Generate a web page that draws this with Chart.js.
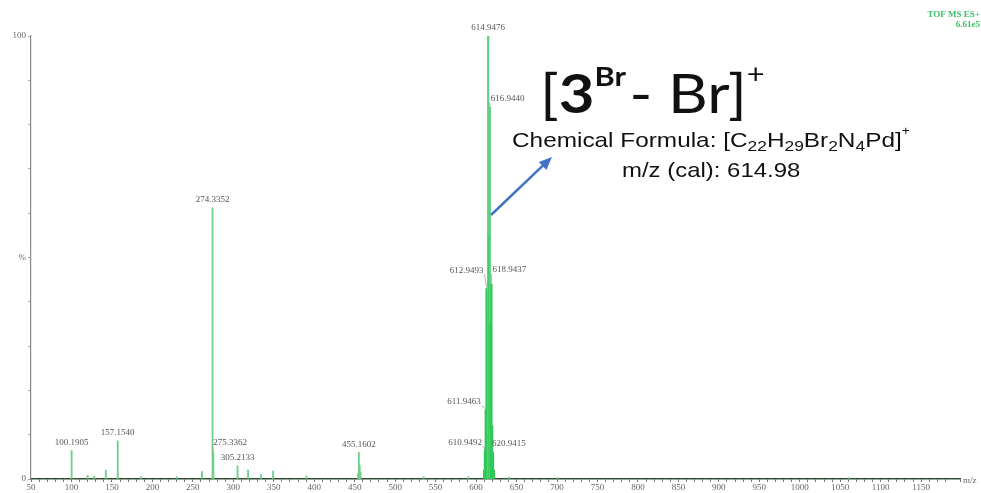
<!DOCTYPE html>
<html>
<head>
<meta charset="utf-8">
<script src="https://cdn.jsdelivr.net/npm/chart.js@4.4.0/dist/chart.umd.min.js"></script>
<style>
  html, body { margin: 0; padding: 0; background: #fff; }
  #espectro { display: block; }
</style>
</head>
<body>
<canvas id="espectro" width="981" height="493"></canvas>
<script>
// picos do espectro (m/z e intensidade relativa, %)
const mzValues = [
  100.1905, 120.1, 128.1, 142.5, 157.1540, 186.1, 230.2, 261.3, 274.3352, 275.3362,
  305.2133, 318.2, 334.2, 349.2, 390.3, 454.2, 455.1602, 456.2, 457.2, 535.3, 590.4,
  609.95, 610.9492, 611.9463, 612.9493, 613.95, 614.9476, 615.95, 616.9440, 617.95,
  618.9437, 619.95, 620.9415, 621.94, 640.5, 700.5, 1060.6
];
const intensities = [
  6.4, 0.8, 0.6, 2.0, 8.6, 0.5, 0.5, 1.7, 61.2, 6.0,
  3.0, 2.0, 1.0, 1.8, 0.7, 1.2, 6.0, 3.0, 1.5, 0.5, 0.5,
  2.0, 6.5, 15.6, 43.0, 38.0, 100.0, 55.0, 84.0, 35.0,
  44.0, 12.0, 6.0, 2.0, 0.4, 0.3, 0.3
];
// picos anotados com o valor de m/z
const labeledMz = [
  100.1905, 157.1540, 274.3352, 275.3362, 305.2133, 455.1602,
  610.9492, 611.9463, 612.9493, 614.9476, 616.9440, 618.9437, 620.9415
];
const xTickStep = 10;
const xLabelStep = 50;
const yTicks = [0, 50, 100];

// onde fica cada rótulo em relação ao topo do pico
const labelPlacement = {
  '275.3362': { align: 'left', dx: 0, dy: -10, leader: true },
  '610.9492': { align: 'right', dx: -3, dy: -8, leader: true },
  '611.9463': { align: 'right', dx: -5, dy: -8, leader: true },
  '612.9493': { align: 'right', dx: -3, dy: -18, leader: true },
  '616.9440': { align: 'left', dx: 1, dy: -8, leader: true },
  '618.9437': { align: 'left', dx: 1, dy: -14, leader: true },
  '620.9415': { align: 'left', dx: -1, dy: -9, leader: true }
};

const isCluster = mz => mz > 600 && mz < 625;
const spectrumPoints = [];
const clusterPoints = [];
mzValues.forEach((mz, i) => {
  (isCluster(mz) ? clusterPoints : spectrumPoints).push({ x: mz, y: intensities[i] });
});

const peakLabelsPlugin = {
  id: 'peakLabels',
  afterDatasetsDraw(chart) {
    const { ctx, scales } = chart;
    ctx.save();
    ctx.font = '9px "Liberation Serif", "DejaVu Serif", serif';
    ctx.fillStyle = '#555';
    ctx.strokeStyle = '#999';
    ctx.lineWidth = 0.8;
    ctx.textBaseline = 'middle';
    labeledMz.forEach(mz => {
      const text = mz.toFixed(4);
      const idx = mzValues.indexOf(mz);
      const px = scales.x.getPixelForValue(mz);
      const py = scales.y.getPixelForValue(intensities[idx]);
      const p = labelPlacement[text] || { align: 'center', dx: 0, dy: -8 };
      ctx.textAlign = p.align;
      ctx.fillText(text, px + p.dx, py + p.dy);
      if (p.leader) {
        ctx.beginPath();
        ctx.moveTo(px + p.dx + (p.align === 'right' ? 1 : -1), py + p.dy + 4);
        ctx.lineTo(px, py - 1);
        ctx.stroke();
      }
    });
    ctx.restore();
  }
};

// escreve trechos seguidos (índices, expoentes) esticados na horizontal por sx
function drawSegments(ctx, segs, x, baseline, sx) {
  ctx.save();
  ctx.translate(x, baseline);
  ctx.scale(sx, 1);
  let cx = 0;
  segs.forEach(s => {
    ctx.font = s.font;
    ctx.fillText(s.t, cx, s.shift || 0);
    cx += ctx.measureText(s.t).width + (s.gap || 0);
  });
  ctx.restore();
}

const annotationPlugin = {
  id: 'annotation',
  afterDraw(chart) {
    const { ctx, chartArea } = chart;
    ctx.save();
    ctx.fillStyle = '#111';
    ctx.textAlign = 'left';
    ctx.textBaseline = 'alphabetic';

    const big = '"Lato", "Open Sans", sans-serif';
    drawSegments(ctx, [
      { t: '[', font: '54px ' + big },
      { t: '3', font: 'bold 54px ' + big },
      { t: 'Br', font: 'bold 27px ' + big, shift: -27, gap: 3 },
      { t: '- ', font: '54px ' + big },
      { t: 'Br]', font: '54px ' + big },
      { t: '+', font: '27px ' + big, shift: -30 }
    ], 540, 113, 1.14);

    const sans = '"Liberation Sans", Arial, sans-serif';
    drawSegments(ctx, [
      { t: 'Chemical Formula: [C', font: '21px ' + sans },
      { t: '22', font: '15px ' + sans, shift: 4 },
      { t: 'H', font: '21px ' + sans },
      { t: '29', font: '15px ' + sans, shift: 4 },
      { t: 'Br', font: '21px ' + sans },
      { t: '2', font: '15px ' + sans, shift: 4 },
      { t: 'N', font: '21px ' + sans },
      { t: '4', font: '15px ' + sans, shift: 4 },
      { t: 'Pd]', font: '21px ' + sans },
      { t: '+', font: '12px ' + sans, shift: -12 }
    ], 512, 147, 1.16);
    drawSegments(ctx, [{ t: 'm/z (cal): 614.98', font: '21px ' + sans }], 622, 177, 1.14);

    // seta apontando para o pico principal
    const x0 = 491, y0 = 215, x1 = 552, y1 = 157;
    const ang = Math.atan2(y1 - y0, x1 - x0);
    ctx.strokeStyle = '#4472c4';
    ctx.fillStyle = '#4472c4';
    ctx.lineWidth = 2.5;
    ctx.beginPath();
    ctx.moveTo(x0, y0);
    ctx.lineTo(x1 - 9 * Math.cos(ang), y1 - 9 * Math.sin(ang));
    ctx.stroke();
    ctx.beginPath();
    ctx.moveTo(x1, y1);
    ctx.lineTo(x1 - 13 * Math.cos(ang) + 5.5 * Math.sin(ang), y1 - 13 * Math.sin(ang) - 5.5 * Math.cos(ang));
    ctx.lineTo(x1 - 13 * Math.cos(ang) - 5.5 * Math.sin(ang), y1 - 13 * Math.sin(ang) + 5.5 * Math.cos(ang));
    ctx.closePath();
    ctx.fill();

    const serif = '"Liberation Serif", "DejaVu Serif", serif';
    ctx.fillStyle = '#3fbf6a';
    ctx.font = 'bold 9px ' + serif;
    ctx.textAlign = 'right';
    ctx.fillText('TOF MS ES+', 980, 17);
    ctx.fillText('6.61e5', 980, 27);

    ctx.fillStyle = '#666';
    ctx.font = '9px ' + serif;
    ctx.textAlign = 'left';
    ctx.textBaseline = 'middle';
    ctx.fillText('m/z', chartArea.right + 3, chartArea.bottom + 2);
    ctx.restore();
  }
};

const ctx = document.getElementById('espectro').getContext('2d');
window.chart = new Chart(ctx, {
  type: 'bar',
  data: {
    datasets: [{
      label: 'Espectro',
      data: spectrumPoints,
      backgroundColor: '#6fd08c',
      barThickness: 1.2
    }, {
      label: 'Isótopos',
      data: clusterPoints,
      backgroundColor: c => (c.raw && c.raw.y > 60 ? '#5fd080' : '#2fc957'),
      barThickness: 1.6
    }]
  },
  options: {
    responsive: false,
    animation: false,
    layout: { padding: { top: 36, right: 21, left: 0, bottom: 0 } },
    plugins: { legend: { display: false }, tooltip: { enabled: false } },
    datasets: { bar: { grouped: false } },
    scales: {
      x: {
        type: 'linear',
        min: 50,
        max: 1198,
        offset: false,
        afterFit: s => { s.height = 14; },
        grid: { offset: false, drawOnChartArea: false, drawTicks: true, tickLength: 3, color: '#777' },
        border: { display: true, color: '#2f4f35', width: 1.5 },
        ticks: {
          stepSize: xTickStep,
          autoSkip: false,
          maxRotation: 0,
          padding: 0,
          color: '#666',
          font: { family: '"Liberation Serif", "DejaVu Serif", serif', size: 9 },
          callback: v => (v % xLabelStep === 0 && v < 1200 - xLabelStep / 2 ? v : '')
        }
      },
      y: {
        min: 0,
        max: 100,
        afterFit: s => { s.width = 31; },
        grid: { drawOnChartArea: false, drawTicks: true, tickLength: 3, color: '#aaa' },
        border: { display: true, color: '#888', width: 1.2 },
        ticks: {
          stepSize: 10,
          padding: 2,
          color: '#666',
          font: { family: '"Liberation Serif", "DejaVu Serif", serif', size: 9 },
          callback: v => (yTicks.includes(v) ? (v === 50 ? '%' : v) : '')
        }
      }
    }
  },
  plugins: [peakLabelsPlugin, annotationPlugin]
});
</script>
</body>
</html>
